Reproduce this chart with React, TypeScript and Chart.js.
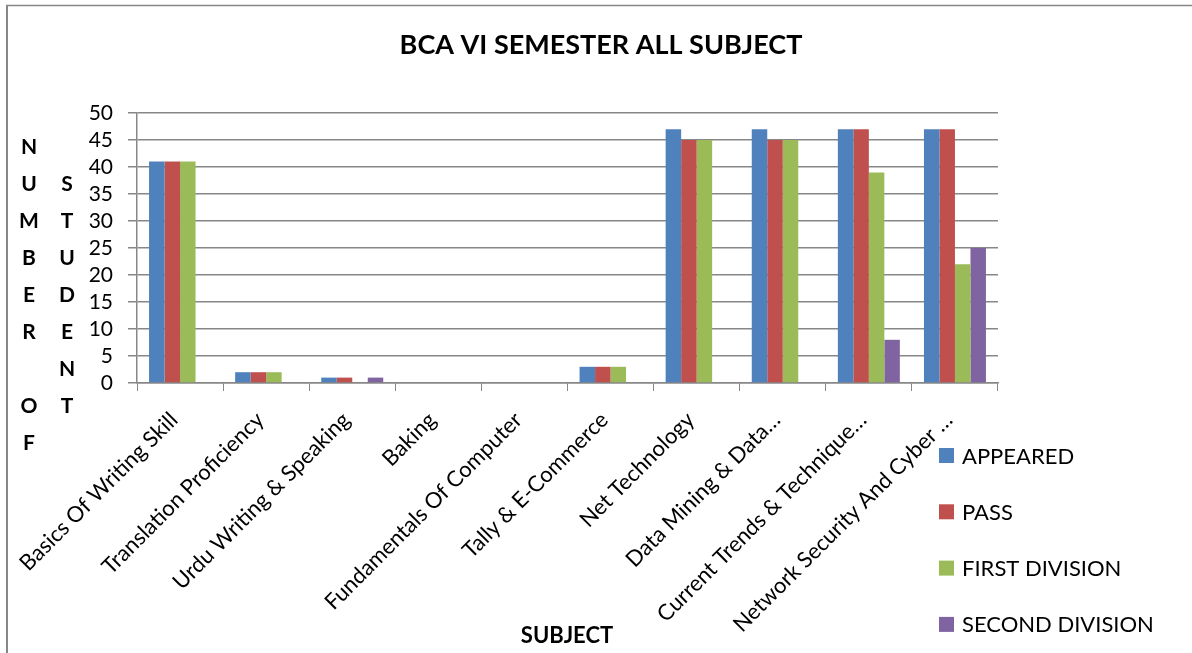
import React, { useEffect, useRef } from 'react';
import { Chart, registerables } from 'chart.js';

Chart.register(...registerables);

const chartTitle = 'BCA VI SEMESTER ALL SUBJECT';
const xAxisTitle = 'SUBJECT';
const yAxisTitleLines = ['NUMBER OF', 'STUDENT'];

const subjects = [
  'Basics Of Writing Skill',
  'Translation Proficiency',
  'Urdu Writing & Speaking',
  'Baking',
  'Fundamentals Of Computer',
  'Tally & E-Commerce',
  'Net Technology',
  'Data Mining & Data…',
  'Current Trends & Technique…',
  'Network Security And Cyber …',
];

const appeared = [41, 2, 1, 0, 0, 3, 47, 47, 47, 47];
const pass = [41, 2, 1, 0, 0, 3, 45, 45, 47, 47];
const firstDivision = [41, 2, 0, 0, 0, 3, 45, 45, 39, 22];
const secondDivision = [0, 0, 1, 0, 0, 0, 0, 0, 8, 25];

const seriesNames = ['APPEARED', 'PASS', 'FIRST DIVISION', 'SECOND DIVISION'];
const seriesColors = ['#4F81BD', '#C0504D', '#9BBB59', '#8064A2'];

const yMin = 0;
const yMax = 50;
const yStep = 5;

const FONT = 'Lato, "Open Sans", sans-serif';
const GRID = '#878787';

const decorPlugin = {
  id: 'decor',
  beforeDraw(chart: any) {
    const ctx = chart.ctx;
    ctx.save();
    ctx.fillStyle = '#ffffff';
    ctx.fillRect(0, 0, chart.width, chart.height);
    ctx.strokeStyle = '#878787';
    ctx.lineWidth = 2;
    ctx.beginPath();
    ctx.moveTo(7, chart.height + 2);
    ctx.lineTo(7, 5.5);
    ctx.stroke();
    ctx.lineWidth = 1.5;
    ctx.beginPath();
    ctx.moveTo(6, 5.5);
    ctx.lineTo(chart.width + 2, 5.5);
    ctx.stroke();
    ctx.restore();
  },
  afterDraw(chart: any) {
    const ctx = chart.ctx;
    ctx.save();
    ctx.fillStyle = '#000000';
    ctx.textAlign = 'center';
    ctx.textBaseline = 'middle';
    // main title
    ctx.font = `bold 27px ${FONT}`;
    ctx.fillText(chartTitle, 601, 45);
    // x axis title
    ctx.font = `bold 22px ${FONT}`;
    ctx.fillText(xAxisTitle, 567, 636);
    // stacked y axis title
    ctx.font = `bold 21px ${FONT}`;
    const colX = [29, 67];
    const centerY = 295;
    const rowH = 37;
    yAxisTitleLines.forEach((line, li) => {
      const chars = line.split('');
      const n = chars.length;
      chars.forEach((c, i) => {
        if (c === ' ') return;
        ctx.fillText(c, colX[li], centerY + (i - (n - 1) / 2) * rowH);
      });
    });
    // legend
    ctx.textAlign = 'left';
    ctx.font = `22px ${FONT}`;
    chart.data.datasets.forEach((ds: any, i: number) => {
      const cy = 455.5 + i * 56.3;
      ctx.fillStyle = ds.backgroundColor;
      ctx.fillRect(939, cy - 7.5, 15, 15);
      ctx.fillStyle = '#000000';
      ctx.fillText(ds.label, 962, cy + 1);
    });
    ctx.restore();
  },
};

export default function App() {
  const ref = useRef<HTMLCanvasElement | null>(null);

  useEffect(() => {
    if (!ref.current) return;
    const seriesValues = [appeared, pass, firstDivision, secondDivision];
    const chart = new Chart(ref.current, {
      type: 'bar',
      data: {
        labels: subjects,
        datasets: seriesNames.map((name, i) => ({
          label: name,
          data: seriesValues[i],
          backgroundColor: seriesColors[i],
          borderWidth: 0,
          categoryPercentage: 0.72,
          barPercentage: 1,
        })),
      },
      options: {
        responsive: false,
        animation: false,
        layout: { padding: { left: 0, top: 113, right: 194, bottom: 0 } },
        plugins: {
          legend: { display: false },
          title: { display: false },
          tooltip: { enabled: false },
        },
        scales: {
          x: {
            offset: true,
            grid: {
              offset: true,
              drawOnChartArea: false,
              drawTicks: true,
              tickLength: 8,
              color: GRID,
              lineWidth: 1,
            },
            border: { display: true, color: GRID, width: 1.5 },
            ticks: {
              autoSkip: false,
              minRotation: 45,
              maxRotation: 45,
              padding: 16,
              labelOffset: -6,
              color: '#000000',
              font: { family: FONT, size: 22 },
            },
            afterFit: (s: any) => {
              s.height = 270;
            },
          },
          y: {
            min: yMin,
            max: yMax,
            ticks: {
              stepSize: yStep,
              autoSkip: false,
              padding: 15,
              color: '#000000',
              font: { family: FONT, size: 21, lineHeight: 1 },
            },
            grid: {
              color: GRID,
              lineWidth: 1.5,
              tickLength: 9,
              drawTicks: true,
            },
            border: { display: true, color: GRID, width: 1.5 },
            afterFit: (s: any) => {
              s.width = 137;
            },
          },
        },
      },
      plugins: [decorPlugin],
    });
    return () => chart.destroy();
  }, []);

  return (
    <div style={{ position: 'fixed', left: 0, top: 0, width: 1192, height: 653 }}>
      <canvas ref={ref} width={1192} height={653} style={{ display: 'block' }} />
    </div>
  );
}
